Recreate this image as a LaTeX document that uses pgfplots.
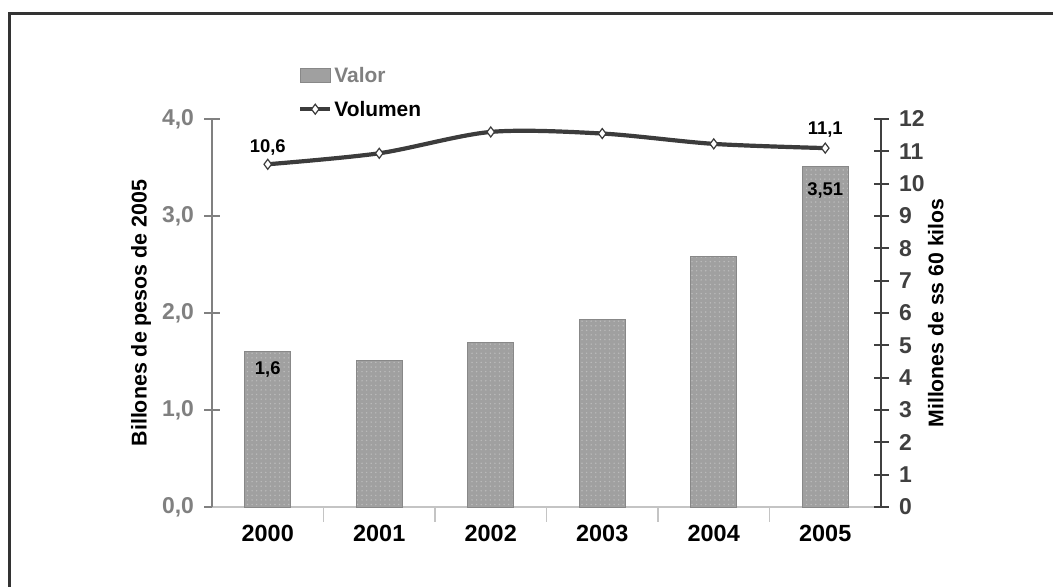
\documentclass[border=0pt]{standalone}
\usepackage{fontspec}
\setmainfont{Liberation Sans}
\usepackage{pgfplots}
\pgfplotsset{compat=1.18}
\usetikzlibrary{patterns}
\definecolor{barfill}{HTML}{A0A0A0}
\definecolor{bardraw}{HTML}{888888}
\definecolor{dotcol}{HTML}{BCBCBC}
\definecolor{leftax}{HTML}{808080}
\definecolor{rightax}{HTML}{404040}
\definecolor{xline}{HTML}{C4C4C4}
\definecolor{linecol}{HTML}{3C3C3C}
\definecolor{framecol}{HTML}{333333}
\pgfdeclarepatternformonly{mydots}{\pgfqpoint{-1pt}{-1pt}}{\pgfqpoint{1pt}{1pt}}{\pgfqpoint{4.6pt}{4.6pt}}{\pgfpathcircle{\pgfqpoint{0pt}{0pt}}{0.8pt}\pgfusepath{fill}}
\pgfplotsset{
  barleg/.style={legend image code/.code={\draw[##1] (0bp,-7bp) rectangle (30bp,7bp);}},
  lineleg/.style={legend image code/.code={\draw[mark repeat=2,mark phase=2,##1] plot coordinates {(0bp,0bp) (15bp,0bp) (30bp,0bp)};}},
}
\pgfplotstableread{
x valor
0 1.60
1 1.51
2 1.70
3 1.93
4 2.58
5 3.51
}\valortable
\pgfplotstableread{
x volumen
0 10.60
1 10.94
2 11.60
3 11.55
4 11.23
5 11.10
}\volumentable
\begin{document}
\begin{tikzpicture}
\path[use as bounding box] (-212bp,-80bp) rectangle (841bp,507bp);
\draw[framecol, line width=3bp] (-202.5bp,-80bp) -- (-202.5bp,493.3bp) -- (841bp,493.3bp);
\begin{axis}[
  at={(0,0)}, anchor=south west,
  width=669bp, height=388bp, scale only axis,
  xmin=-0.5, xmax=5.5, ymin=0, ymax=4,
  axis x line*=bottom, axis y line*=left,
  x axis line style={draw=xline, line width=1.5bp},
  y axis line style={draw=leftax, line width=2bp},
  xtick={0,1,2,3,4,5}, xticklabels={2000,2001,2002,2003,2004,2005},
  major x tick style={draw=none},
  minor xtick={0.5,1.5,2.5,3.5,4.5},
  minor x tick style={draw=xline, line width=1.2bp},
  ytick={0,1,2,3,4},
  y tick style={draw=leftax, line width=2bp},
  tick align=center, major tick length=15bp, minor tick length=15bp,
  yticklabel style={font=\fontsize{23}{25}\selectfont\bfseries, text=leftax, xshift=-7bp,
    /pgf/number format/.cd, fixed, fixed zerofill, precision=1, use comma, assume math mode=true},
  xticklabel style={font=\fontsize{23.5}{25}\selectfont\bfseries, text=black},
  ylabel={Billones de pesos de 2005},
  ylabel style={at={(rel axis cs:-0.106,0.5)}, anchor=center,
    font=\fontsize{21.5}{24}\selectfont\bfseries, text=black},
  ybar, bar width=46bp,
]
\addplot[fill=barfill, draw=bardraw, line width=1bp,
  postaction={pattern=mydots, pattern color=dotcol}] table[x=x, y=valor] {\valortable};
\node[font=\fontsize{18.5}{20}\selectfont\bfseries] at (axis cs:0,1.42) {1,6};
\node[font=\fontsize{18.5}{20}\selectfont\bfseries] at (axis cs:5,3.26) {3,51};
\end{axis}
\begin{axis}[
  at={(0,0)}, anchor=south west,
  width=669bp, height=388bp, scale only axis,
  xmin=-0.5, xmax=5.5, ymin=0, ymax=12,
  axis x line=none, axis y line*=right,
  y axis line style={draw=rightax, line width=2bp},
  ytick={0,1,2,3,4,5,6,7,8,9,10,11,12},
  y tick style={draw=rightax, line width=2bp},
  tick align=center, major tick length=15bp,
  yticklabel style={font=\fontsize{23}{25}\selectfont\bfseries, text=rightax, xshift=7bp,
    /pgf/number format/assume math mode=true},
  ylabel={Millones de ss 60 kilos},
  ylabel style={at={(rel axis cs:1.082,0.5)}, anchor=center,
    font=\fontsize{21.3}{24}\selectfont\bfseries, text=black},
  legend style={at={(rel axis cs:0.1285,1.139)}, anchor=north west, draw=none, fill=none,
    font=\fontsize{21}{24}\selectfont\bfseries, row sep=13bp, inner sep=0pt},
  legend cell align=left,
]
\addlegendimage{barleg, fill=barfill, draw=bardraw, line width=0.6bp}
\addlegendentry{\textcolor{leftax}{Valor}}
\addplot[smooth, color=linecol, line width=4.2bp, mark=diamond*,
  mark size=5bp, mark options={fill=white, draw=linecol, line width=1.2bp},
  lineleg]
  table[x=x, y=volumen] {\volumentable};
\addlegendentry{Volumen}
\node[font=\fontsize{18.5}{20}\selectfont\bfseries] at (axis cs:0,11.13) {10,6};
\node[font=\fontsize{18.5}{20}\selectfont\bfseries] at (axis cs:5,11.66) {11,1};
\end{axis}
\end{tikzpicture}
\end{document}
